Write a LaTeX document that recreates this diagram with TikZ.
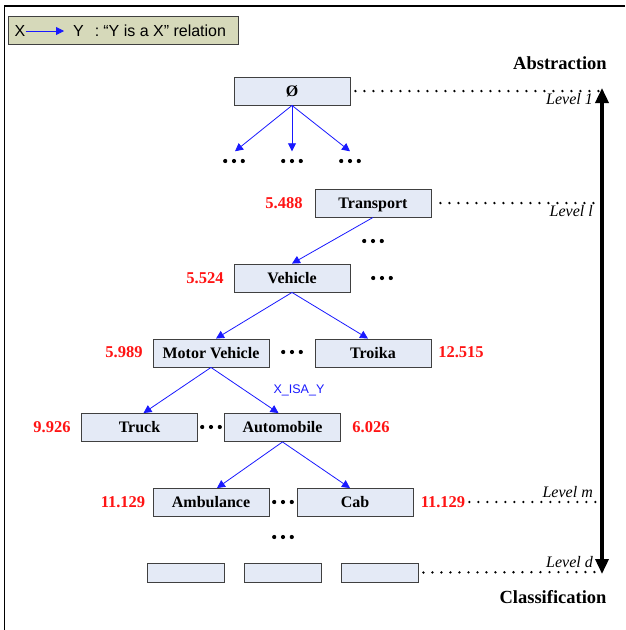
\documentclass[tikz,border=0pt]{standalone}
\usepackage{fontspec}
\setmainfont{Liberation Serif}
\setsansfont{Liberation Sans}
\usetikzlibrary{arrows.meta}
\definecolor{boxfill}{RGB}{228,234,246}
\definecolor{legfill}{RGB}{214,217,186}
\definecolor{numred}{RGB}{255,20,20}
\definecolor{arrblue}{RGB}{25,25,255}
\begin{document}
\begin{tikzpicture}[x=1pt,y=-1pt,
  box/.style={draw=black!75, line width=0.9pt, fill=boxfill, minimum width=116pt, minimum height=28pt, inner sep=0pt, text height=10.5pt, text depth=0pt, font=\fontsize{16}{16}\selectfont\bfseries},
  smallbox/.style={draw=black!75, line width=0.9pt, fill=boxfill, minimum width=77pt, minimum height=19pt, inner sep=0pt},
  num/.style={text=numred, inner sep=0pt, text height=11pt, text depth=0pt, font=\fontsize{16.5}{16.5}\selectfont\bfseries},
  dotsn/.style={minimum width=22pt, minimum height=5pt, inner sep=0pt, path picture={\foreach \i in {-1,0,1} \fill ([xshift=\i*8.8pt]path picture bounding box.center) circle (2.1pt);}},
  isa/.style={draw=arrblue, line width=0.8pt, -{Triangle[width=8pt,length=8pt]}},
  lvl/.style={anchor=base east, inner sep=0pt, font=\fontsize{16}{16}\selectfont\itshape},
  lvlline/.style={line width=2.6pt, line cap=round, dash pattern=on 0pt off 9pt},
  title/.style={inner sep=0pt, font=\fontsize{18.5}{18.5}\selectfont\bfseries}
]
\useasboundingbox (0,0) rectangle (625,630);
\fill[white] (0,0) rectangle (625,630);
% frame
\draw[line width=1.5pt] (4.5,630) -- (4.5,6) -- (625,6);

% legend
\node[draw=black!75, line width=0.9pt, fill=legfill, minimum width=230pt, minimum height=28pt, inner sep=0pt] (legend) at (123,30) {};
\node[inner sep=0pt, font=\sffamily\fontsize{16}{16}\selectfont] (lx) at (20,31) {X};
\node[inner sep=0pt, anchor=west, font=\sffamily\fontsize{16}{16}\selectfont] (ly) at (73,31) {Y\hspace{11pt}:\hspace{4pt}“Y is a X” relation};
\draw[isa] (lx.east) -- ([xshift=-9pt]ly.west);

% titles
\node[title] (abs) at (560,63) {Abstraction};
\node[title] (cls) at (553,597) {Classification};

% boxes
\node[box] (root) at (292,91) {Ø};
\node[box] (transport) at (373,203) {Transport};
\node[box] (vehicle) at (292,278) {Vehicle};
\node[box] (motor) at (211,353) {Motor Vehicle};
\node[box] (troika) at (373,353) {Troika};
\node[box] (truck) at (139.5,427.5) {Truck};
\node[box] (auto) at (282.5,427.5) {Automobile};
\node[box] (amb) at (211,502.5) {Ambulance};
\node[box] (cab) at (355,502.5) {Cab};
\node[smallbox] (b1) at (186,572.5) {};
\node[smallbox] (b2) at (283,572.5) {};
\node[smallbox] (b3) at (379.5,572.5) {};

% numbers
\node[num] (n1) at (284,203) {5.488};
\node[num] (n2) at (205,278) {5.524};
\node[num] (n3) at (124,352) {5.989};
\node[num] (n4) at (461,352) {12.515};
\node[num] (n5) at (52,427) {9.926};
\node[num] (n6) at (371,427) {6.026};
\node[num] (n7) at (123,502) {11.129};
\node[num] (n8) at (443,502) {11.129};

% dots
\node[dotsn] (d1) at (234,161) {};
\node[dotsn] (d2) at (292,161) {};
\node[dotsn] (d3) at (350,161) {};
\node[dotsn] (d4) at (373,241) {};
\node[dotsn] (d5) at (382,278) {};
\node[dotsn] (d6) at (292,352) {};
\node[dotsn] (d7) at (211,427) {};
\node[dotsn] (d8) at (283,502) {};
\node[dotsn] (d9) at (283,537) {};

% tree arrows
\draw[isa] (root.south) -- ([xshift=1pt,yshift=7pt]d1.north);
\draw[isa] (root.south) -- ([yshift=7pt]d2.north);
\draw[isa] (root.south) -- ([yshift=7pt]d3.north);
\draw[isa] (transport.south) -- (vehicle.north);
\draw[isa] (vehicle.south) -- ([xshift=5pt]motor.north);
\draw[isa] (vehicle.south) -- ([xshift=-5pt]troika.north);
\draw[isa] (motor.south) -- ([xshift=4pt]truck.north);
\draw[isa] (motor.south) -- ([xshift=-4pt]auto.north);
\draw[isa] (auto.south) -- ([xshift=6pt]amb.north);
\draw[isa] (auto.south) -- ([xshift=-5pt]cab.north);
\node[inner sep=0pt, text=arrblue, font=\sffamily\fontsize{12.5}{12.5}\selectfont] (xisay) at (299,390) {X\_ISA\_Y};

% level lines
\coordinate (e1) at (601,91);
\coordinate (e2) at (601,203);
\coordinate (e3) at (600,502);
\coordinate (e4) at (600,572);
\draw[lvlline] ([xshift=5pt]root.east) -- (e1);
\draw[lvlline] ([xshift=9pt]transport.east) -- (e2);
\draw[lvlline] ([xshift=4pt]n8.east) -- (e3);
\draw[lvlline] ([xshift=5pt]b3.east) -- (e4);
\node[lvl] (l1) at (593,104) {Level 1};
\node[lvl] (l2) at (593,216) {Level l};
\node[lvl] (l3) at (593,497) {Level m};
\node[lvl] (l4) at (593,567) {Level d};

% vertical arrow
\coordinate (vt) at (602,88);
\coordinate (vb) at (602,574);
\draw[line width=3.5pt, {Triangle[width=13pt,length=15pt]}-{Triangle[width=13pt,length=15pt]}] (vt) -- (vb);
\end{tikzpicture}
\end{document}
